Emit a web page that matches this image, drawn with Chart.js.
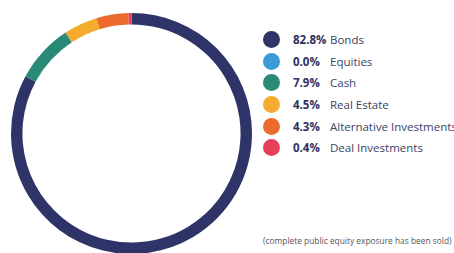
<!DOCTYPE html>
<html>
<head>
<meta charset="utf-8">
<script src="https://cdn.jsdelivr.net/npm/chart.js@4"></script>
<style>
    html, body { margin: 0; padding: 0; background: #fff; overflow: hidden; }
    body { width: 454px; height: 253px; position: relative; font-family: "Open Sans", sans-serif; }
    #chart-wrap { position: absolute; left: 11px; top: 13px; width: 241px; height: 241px; }
    #legend { position: absolute; left: 263px; top: 29px; }
    .row { height: 21.6px; display: flex; align-items: center; white-space: nowrap; }
    .dot { width: 17px; height: 17px; border-radius: 50%; margin-right: 13px; flex: none; }
    .pct { font-weight: 700; font-size: 11.5px; color: #2b3160; width: 37px; }
    .name { font-size: 11.5px; color: #3a3f66; }
    #note { position: absolute; left: 263px; top: 235px; font-size: 8.4px; color: #555; white-space: nowrap; }
</style>
</head>
<body>
<div id="chart-wrap"><canvas id="allocChart"></canvas></div>
<div id="legend"></div>
<div id="note">(complete public equity exposure has been sold)</div>
<script>
// Asset allocation (%)
const categories = ['Bonds', 'Equities', 'Cash', 'Real Estate', 'Alternative Investments', 'Deal Investments'];
const shares = [82.8, 0.0, 7.9, 4.5, 4.3, 0.4];
const colours = ['#2e3468', '#3d9bd3', '#2a8a78', '#f5ac2e', '#eb6a2c', '#e8405a'];

// Legend
const legend = document.getElementById('legend');
legend.innerHTML = categories.map((name, i) => `
    <div class="row">
        <span class="dot" style="background:${colours[i]}"></span>
        <span class="pct">${shares[i].toFixed(1)}%</span>
        <span class="name">${name}</span>
    </div>
`).join('');

// Donut
const ctx = document.getElementById('allocChart').getContext('2d');
new Chart(ctx, {
    type: 'doughnut',
    data: {
        labels: categories,
        datasets: [{
            data: shares,
            backgroundColor: colours,
            borderWidth: 0
        }]
    },
    options: {
        responsive: true,
        maintainAspectRatio: false,
        animation: false,
        cutout: '90.5%',
        plugins: {
            legend: { display: false },
            tooltip: { enabled: false }
        }
    }
});
</script>
</body>
</html>
